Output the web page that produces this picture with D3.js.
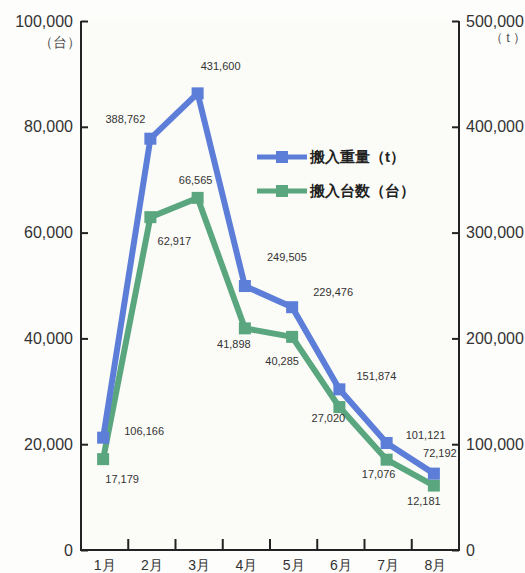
<!DOCTYPE html>
<html lang="ja">
<head>
<meta charset="utf-8">
<script src="https://cdn.jsdelivr.net/npm/d3@7"></script>
<style>
  html, body { margin: 0; padding: 0; background: #fdfdfb; }
  svg { display: block; }
  text { font-family: "Liberation Sans", Arial, sans-serif; }
</style>
</head>
<body>
<svg id="chart" width="525" height="573"></svg>
<script>
// Monthly intake: vehicles (left axis) and tonnage (right axis)
const months = ["1月", "2月", "3月", "4月", "5月", "6月", "7月", "8月"];
const weightT = [106166, 388762, 431600, 249505, 229476, 151874, 101121, 72192];
const vehicles = [17179, 62917, 66565, 41898, 40285, 27020, 17076, 12181];
const leftTicks = [0, 20000, 40000, 60000, 80000, 100000];
const rightTicks = [0, 100000, 200000, 300000, 400000, 500000];

// label offsets (dx, dy) relative to each point
const weightLabelOffset = [[41, -7], [-25, -20], [23, -27], [42, -29], [41, -15], [37, -13], [39, -8], [6, -21]];
const vehicleLabelOffset = [[19, 20], [24, 24], [-2, -18], [-11, 16], [-10, 24], [-11, 11], [-8, 14], [-10, 15]];

const svg = d3.select("#chart");
const plotLeft = 81, plotRight = 459, plotTop = 21, plotBottom = 550;

const x = d3.scaleBand().domain(months).range([plotLeft, plotRight]).paddingInner(0).paddingOuter(0);
const yL = d3.scaleLinear().domain([0, 100000]).range([plotBottom, plotTop]);
const yR = d3.scaleLinear().domain([0, 500000]).range([plotBottom, plotTop]);
const cx = m => x(m) + x.bandwidth() / 2 - 1.5;
const fmt = d3.format(",");

// plot background
svg.append("rect").attr("x", plotLeft).attr("y", plotTop)
  .attr("width", plotRight - plotLeft).attr("height", plotBottom - plotTop)
  .attr("fill", "#fbfbf7");

// left axis
const gL = svg.append("g").attr("transform", `translate(${plotLeft},0)`)
  .call(d3.axisLeft(yL).tickValues(leftTicks).tickSize(-7).tickFormat(d => fmt(d)));
gL.select(".domain").remove();
gL.selectAll("line").attr("stroke", "#222").attr("stroke-width", 2);
gL.selectAll(".tick text").attr("x", -8).attr("font-size", 16).attr("fill", "#333");

// right axis
const gR = svg.append("g").attr("transform", `translate(${plotRight},0)`)
  .call(d3.axisRight(yR).tickValues(rightTicks).tickSize(-7).tickFormat(d => fmt(d)));
gR.select(".domain").remove();
gR.selectAll("line").attr("stroke", "#222").attr("stroke-width", 2);
gR.selectAll(".tick text").attr("x", 7).attr("font-size", 16).attr("fill", "#333");

// axis frame lines
svg.append("path")
  .attr("d", `M${plotLeft},${plotTop}V${plotBottom}H${plotRight}V${plotTop}`)
  .attr("fill", "none").attr("stroke", "#222").attr("stroke-width", 2);

// x ticks at month boundaries, pointing upward
svg.append("g").selectAll("line").data(months.slice(1)).join("line")
  .attr("x1", d => x(d)).attr("x2", d => x(d))
  .attr("y1", plotBottom).attr("y2", plotBottom - 11)
  .attr("stroke", "#222").attr("stroke-width", 2);

// month labels
svg.append("g").selectAll("text").data(months).join("text")
  .attr("x", d => x(d) + x.bandwidth() / 2).attr("y", 570)
  .attr("text-anchor", "middle").attr("font-size", 14).attr("fill", "#333")
  .text(d => d);

// unit labels
svg.append("text").attr("x", 60).attr("y", 47).attr("text-anchor", "middle")
  .attr("font-size", 14).attr("fill", "#555").text("（台）");
svg.append("text").attr("x", 508).attr("y", 42).attr("text-anchor", "middle")
  .attr("font-size", 13).attr("fill", "#555").text("（ t ）");

const blue = "#5d7ed8", green = "#5aa67f";

function series(values, scale, color, offsets) {
  const g = svg.append("g");
  const line = d3.line().x((d, i) => cx(months[i])).y(d => scale(d));
  g.append("path").datum(values).attr("d", line)
    .attr("fill", "none").attr("stroke", color).attr("stroke-width", 6)
    .attr("stroke-linejoin", "miter");
  g.selectAll("rect").data(values).join("rect")
    .attr("x", (d, i) => cx(months[i]) - 6).attr("y", d => scale(d) - 6)
    .attr("width", 12).attr("height", 12).attr("fill", color);
  svg.append("g").selectAll("text").data(values).join("text")
    .attr("x", (d, i) => cx(months[i]) + offsets[i][0])
    .attr("y", (d, i) => scale(d) + offsets[i][1] + 4)
    .attr("text-anchor", "middle").attr("font-size", 11).attr("fill", "#333")
    .text(d => fmt(d));
}

series(vehicles, yL, green, vehicleLabelOffset);
series(weightT, yR, blue, weightLabelOffset);

// legend
const legend = [
  { name: "搬入重量（t）", color: blue },
  { name: "搬入台数（台）", color: green }
];
const lg = svg.append("g").selectAll("g").data(legend).join("g")
  .attr("transform", (d, i) => `translate(257,${157 + i * 34})`);
lg.append("line").attr("x1", 0).attr("x2", 50).attr("y1", 0).attr("y2", 0)
  .attr("stroke", d => d.color).attr("stroke-width", 5);
lg.append("rect").attr("x", 19).attr("y", -6).attr("width", 12).attr("height", 12)
  .attr("fill", d => d.color);
lg.append("text").attr("x", 53).attr("y", 5)
  .attr("font-family", "'Noto Sans CJK JP', sans-serif")
  .attr("font-size", 15).attr("font-weight", "bold").attr("fill", "#222")
  .text(d => d.name);
</script>
</body>
</html>
